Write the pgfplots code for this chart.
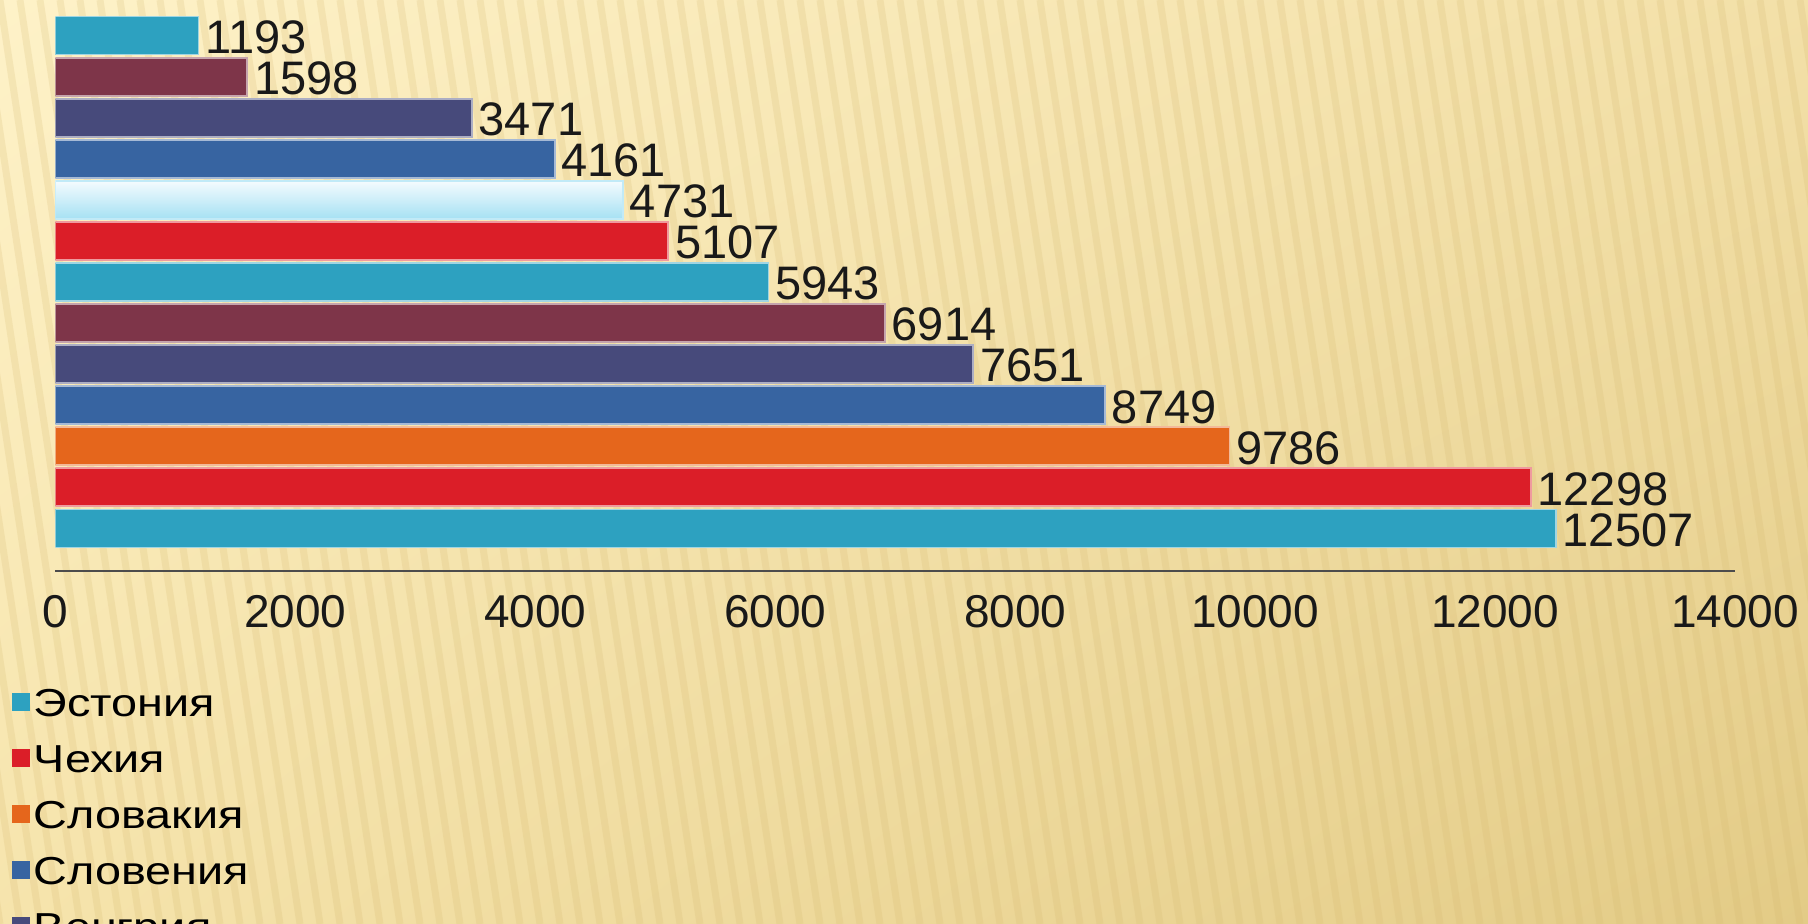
\documentclass[border=0pt]{standalone}
\usepackage{pgfplots}
\pgfplotsset{compat=1.18}
\usetikzlibrary{shadings}
\usepackage{fontspec}
\setmainfont{Liberation Sans}
\newfontfamily\legfont[FakeStretch=1.2]{Liberation Sans}
\definecolor{cEst}{HTML}{2DA1C0}
\definecolor{cMar}{HTML}{7E3549}
\definecolor{cNav}{HTML}{474A7B}
\definecolor{cBlu}{HTML}{3764A1}
\definecolor{cRed}{HTML}{DB1E28}
\definecolor{cOra}{HTML}{E5661C}
\definecolor{cLtop}{HTML}{A6E1F3}
\definecolor{cLbot}{HTML}{F4FBFE}
\definecolor{bgUL}{HTML}{FEF2C8}
\definecolor{bgUR}{HTML}{F3E0A8}
\definecolor{bgLL}{HTML}{F6E4AC}
\definecolor{bgLR}{HTML}{E3CB86}
\definecolor{stripe}{HTML}{D4B66C}
\begin{document}
\begin{tikzpicture}
\useasboundingbox (0,0) rectangle (904pt,462pt);
\clip (0,0) rectangle (904pt,462pt);
\shade[upper left=bgUL, upper right=bgUR, lower left=bgLL, lower right=bgLR] (0,0) rectangle (904pt,462pt);
\foreach \i in {-10,...,95} {
  \draw[stripe, opacity=0.2, line width=3.5pt] (\i*10pt,462pt) -- (\i*10pt+70pt,0pt);
}
\begin{axis}[
  at={(27.7pt,176.5pt)}, anchor=south west,
  scale only axis, width=839.8pt, height=278pt,
  xmin=0, xmax=14000, ymin=-1.035, ymax=12.5,
  xbar, bar shift=0pt, bar width=19pt,
  axis x line=bottom, axis y line=none,
  x axis line style={-, line width=1.3pt, color=black!70},
  xtick={0,2000,4000,6000,8000,10000,12000,14000},
  major tick length=0pt,
  scaled x ticks=false,
  /pgf/number format/1000 sep={},
  /pgf/number format/assume math mode=true,
  xticklabel style={font=\fontsize{23}{23}\selectfont, inner sep=0pt, yshift=-12pt, text=black!90},
  nodes near coords,
  point meta=x,
  nodes near coords style={font=\fontsize{23.5}{23.5}\selectfont, anchor=west, inner sep=0pt, xshift=3pt, yshift=-0.8pt, text=black!90},
  mybar/.style={fill=#1, draw=#1!45!white, line width=0.9pt, bar shift=0pt},
  legend cell align=left,
  legend image code/.code={\fill[#1, draw=none] (0pt,-2.5pt) rectangle (9pt,6.5pt);},
  legend style={draw=none, fill=none, inner sep=0pt,
    at={(axis description cs:0,0)}, anchor=north west,
    xshift=-21.7pt, yshift=-53.5pt,
    font=\legfont\fontsize{19.5}{19.5}\selectfont, row sep=0pt,
    nodes={text height=14.5pt, text depth=4.5pt, inner ysep=4.5pt, inner xsep=1.7pt}},
]
\addplot[mybar=cEst] coordinates {(12507,0)};
\addlegendentry{Эстония}
\addplot[mybar=cRed] coordinates {(12298,1)};
\addlegendentry{Чехия}
\addplot[mybar=cOra] coordinates {(9786,2)};
\addlegendentry{Словакия}
\addplot[mybar=cBlu] coordinates {(8749,3)};
\addlegendentry{Словения}
\addplot[mybar=cNav] coordinates {(7651,4)};
\addlegendentry{Венгрия}
\addplot[mybar=cMar, forget plot] coordinates {(6914,5)};
\addplot[mybar=cEst, forget plot] coordinates {(5943,6)};
\addplot[mybar=cRed, forget plot] coordinates {(5107,7)};
\addplot[bar shift=0pt, top color=cLbot, bottom color=cLtop, draw=cLtop!70!white, line width=0.9pt, forget plot] coordinates {(4731,8)};
\addplot[mybar=cBlu, forget plot] coordinates {(4161,9)};
\addplot[mybar=cNav, forget plot] coordinates {(3471,10)};
\addplot[mybar=cMar, forget plot] coordinates {(1598,11)};
\addplot[mybar=cEst, forget plot] coordinates {(1193,12)};
\end{axis}
\end{tikzpicture}
\end{document}
